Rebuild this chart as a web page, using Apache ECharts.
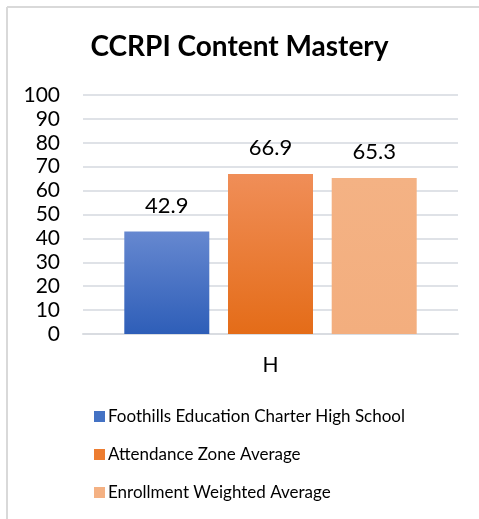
<!DOCTYPE html>
<html>
<head>
<meta charset="utf-8">
<style>
  html, body { margin: 0; padding: 0; background: #fff; }
  #chart { width: 479px; height: 519px; }
</style>
<script src="https://cdn.jsdelivr.net/npm/echarts@6/dist/echarts.min.js"></script>
</head>
<body>
<div id="chart"></div>
<script>
const categories = ["H"];
const seriesNames = [
  "Foothills Education Charter High School",
  "Attendance Zone Average",
  "Enrollment Weighted Average",
];
const seriesValues = [[42.9], [66.9], [65.3]];
const yTicks = { min: 0, max: 100, interval: 10 };

const font = "Lato, Calibri, 'Open Sans', sans-serif";
const grad = (top, bottom) =>
  new echarts.graphic.LinearGradient(0, 0, 0, 1, [
    { offset: 0, color: top },
    { offset: 1, color: bottom },
  ]);
const fills = [
  grad("#6688d0", "#2e5eb8"),
  grad("#f08e58", "#e46c18"),
  grad("#f4b284", "#f3ae7e"),
];
const legendColors = ["#4472c4", "#ed7d31", "#f4b183"];

const chart = echarts.init(document.getElementById("chart"));

const option = {
  animation: false,
  title: {
    text: "CCRPI Content Mastery",
    left: "center",
    top: 28,
    textStyle: { fontFamily: font, fontSize: 28, fontWeight: "bold", color: "#000" },
  },
  graphic: [
    { type: "line", shape: { x1: 7, y1: 7, x2: 479, y2: 7 }, style: { stroke: "#d9d9d9", lineWidth: 2 } },
    { type: "line", shape: { x1: 7, y1: 7, x2: 7, y2: 519 }, style: { stroke: "#d9d9d9", lineWidth: 2 } },
  ],
  grid: { left: 83, right: 21, top: 95, bottom: 185 },
  legend: {
    orient: "vertical",
    left: 89,
    top: 403,
    itemWidth: 11,
    itemHeight: 11,
    itemGap: 21,
    icon: "rect",
    textStyle: { fontFamily: font, fontSize: 17, color: "#000", padding: [0, 0, 0, -2] },
    data: seriesNames.map((n, i) => ({ name: n, itemStyle: { color: legendColors[i] } })),
  },
  xAxis: {
    type: "category",
    data: categories,
    axisTick: { show: false },
    axisLine: { lineStyle: { color: "#d9dce1", width: 2 } },
    axisLabel: { fontFamily: font, fontSize: 21, color: "#000", margin: 21 },
  },
  yAxis: {
    type: "value",
    min: yTicks.min,
    max: yTicks.max,
    interval: yTicks.interval,
    axisLine: { show: false },
    axisTick: { show: false },
    axisLabel: { fontFamily: font, fontSize: 21, color: "#000", margin: 23 },
    splitLine: { lineStyle: { color: "#dfe2e7", width: 2 } },
  },
  series: seriesNames.map((name, i) => ({
    name,
    type: "bar",
    data: seriesValues[i],
    barWidth: 85,
    barGap: "22%",
    itemStyle: { color: fills[i] },
    label: {
      show: true,
      position: "top",
      distance: 15,
      fontFamily: font,
      fontSize: 22,
      color: "#000",
    },
  })),
};

chart.setOption(option);
</script>
</body>
</html>
